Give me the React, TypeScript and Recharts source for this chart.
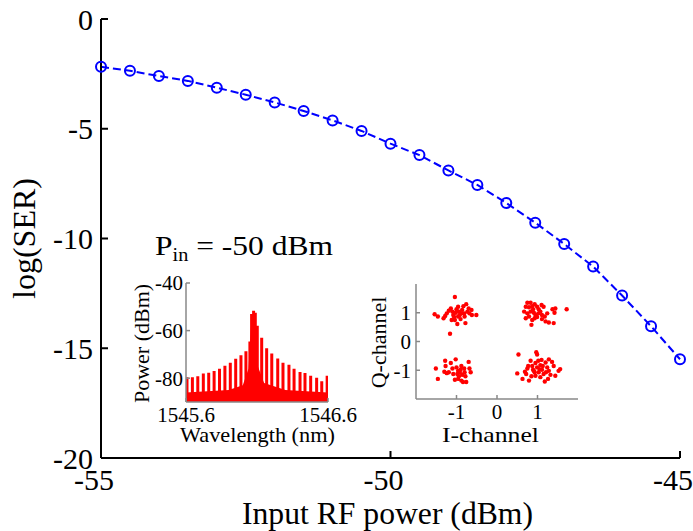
import React from 'react';
import { LineChart, Line, XAxis, YAxis, ComposedChart, Area, ScatterChart, Scatter } from 'recharts';

// main curve: log(SER) vs input RF power
const inputPower = [-55, -54.5, -54, -53.5, -53, -52.5, -52, -51.5, -51, -50.5, -50, -49.5, -49, -48.5, -48, -47.5, -47, -46.5, -46, -45.5, -45];
const logSer = [-2.18, -2.36, -2.6, -2.82, -3.13, -3.45, -3.8, -4.19, -4.62, -5.1, -5.68, -6.2, -6.9, -7.56, -8.38, -9.28, -10.25, -11.28, -12.6, -14.0, -15.5];
const mainXTicks = [-55, -50, -45];
const mainYTicks = [-20, -15, -10, -5, 0];

// inset 1: optical spectrum comb lines
const combWl = [1545.607, 1545.645, 1545.683, 1545.722, 1545.76, 1545.798, 1545.836, 1545.874, 1545.912, 1545.95, 1545.987, 1546.022, 1546.05, 1546.062, 1546.076, 1546.088, 1546.102, 1546.133, 1546.168, 1546.204, 1546.246, 1546.283, 1546.325, 1546.361, 1546.403, 1546.438, 1546.478, 1546.52, 1546.556, 1546.594];
const combPeak = [-79.6, -79.6, -79.2, -78.0, -77.7, -77.0, -76.0, -74.8, -73.5, -71.8, -70.4, -68.7, -64.6, -53.0, -51.7, -52.5, -58.0, -63.0, -67.4, -69.6, -71.7, -73.5, -74.3, -76.0, -77.4, -77.8, -79.0, -79.8, -81.3, -79.0];
const floorWl = [1545.6, 1545.9, 1546.0, 1546.04, 1546.058, 1546.07, 1546.085, 1546.1, 1546.15, 1546.3, 1546.6];
const floorP = [-86, -85, -83, -76, -58, -56, -57, -74, -82, -85, -86];
const specFloor = -90;
const specXTicks = [1545.6, 1546.6];
const specYTicks = [-80, -60, -40];

// inset 2: constellation (I, Q)
const clusterTL = [[-1.04, 1.55], [-1.54, 0.95], [-1.46, 0.87], [-1.32, 0.81], [-1.28, 0.89], [-1.24, 0.98], [-1.19, 1.07], [-1.14, 1.15], [-1.1, 1.04], [-1.08, 0.92], [-1.06, 0.85], [-1.02, 1.0], [-1.0, 1.12], [-0.96, 1.21], [-0.94, 1.04], [-0.92, 0.92], [-0.9, 0.78], [-0.86, 1.1], [-0.83, 1.23], [-0.81, 0.98], [-0.8, 0.87], [-0.78, 0.64], [-0.76, 1.3], [-0.73, 1.04], [-0.7, 1.15], [-0.68, 0.98], [-0.63, 1.1], [-0.62, 0.92], [-0.51, 0.92], [-0.98, 0.61], [-1.16, 0.27], [-1.12, 0.75], [-0.88, 0.98], [-0.96, 0.87], [-1.04, 0.75]];
const clusterTR = [[0.75, 1.35], [0.83, 1.35], [0.71, 1.21], [0.79, 1.19], [0.87, 1.23], [0.93, 1.3], [0.99, 1.21], [1.03, 1.12], [1.1, 1.27], [1.15, 1.21], [0.67, 1.04], [0.75, 0.98], [0.83, 1.04], [0.91, 1.0], [0.95, 0.92], [1.02, 0.98], [1.07, 1.04], [1.11, 0.92], [1.18, 0.87], [1.24, 0.98], [0.71, 0.81], [0.79, 0.87], [0.87, 0.75], [0.93, 0.81], [0.85, 0.58], [1.2, 0.7], [1.28, 0.66], [1.4, 0.64], [1.37, 1.12], [1.44, 1.15], [1.42, 1.0], [1.72, 1.12], [0.99, 0.85], [1.11, 0.78], [0.89, 1.12]];
const clusterBL = [[-1.51, -0.94], [-1.46, -1.3], [-1.28, -0.67], [-1.27, -0.85], [-1.3, -1.05], [-1.24, -1.1], [-1.14, -0.75], [-1.1, -0.94], [-1.19, -1.07], [-1.02, -0.62], [-1.0, -0.9], [-0.96, -1.02], [-0.98, -1.13], [-0.92, -1.07], [-0.94, -1.21], [-0.9, -0.98], [-0.86, -1.16], [-0.88, -1.36], [-0.8, -1.07], [-0.78, -1.21], [-0.81, -0.94], [-0.84, -1.41], [-0.76, -1.41], [-0.7, -0.71], [-0.68, -0.94], [-0.65, -1.07], [-1.04, -1.33], [-1.08, -1.13], [-0.88, -0.85], [-0.96, -1.3]];
const clusterBR = [[0.53, -0.45], [0.97, -0.37], [0.99, -0.45], [0.5, -1.11], [0.63, -1.3], [0.79, -1.36], [0.72, -1.13], [0.75, -0.94], [0.83, -0.67], [0.87, -0.85], [0.91, -1.02], [0.95, -0.75], [0.99, -0.9], [1.03, -1.07], [1.07, -0.82], [1.11, -0.98], [1.15, -1.13], [1.2, -0.73], [1.24, -0.9], [1.28, -1.02], [1.32, -1.16], [1.26, -1.3], [1.36, -0.71], [1.4, -0.85], [1.44, -1.19], [1.52, -1.02], [1.18, -1.39], [1.07, -1.24], [0.95, -1.19], [0.85, -1.21], [0.77, -0.85], [1.02, -0.67], [1.1, -0.64], [1.28, -0.62], [0.93, -1.07], [1.13, -0.85], [1.21, -1.07], [1.05, -0.96], [0.89, -0.98], [1.56, -0.96], [0.69, -1.05]];
const iqTicks = [-1, 0, 1];

const FONT = '"Liberation Serif", "Times New Roman", serif';

const serData = inputPower.map((p, i) => ({ p, ser: logSer[i] }));
// each comb line goes floor -> peak -> floor at its wavelength
const combData = combWl.flatMap((wl, i) => [
    { wl, p: specFloor },
    { wl, p: combPeak[i] },
    { wl, p: specFloor },
]);
const floorData = floorWl.map((wl, i) => ({ wl, p: floorP[i] }));
const toIQ = (pts: number[][]) => pts.map(([i, q]) => ({ i, q }));

const mainXTick = { fill: '#000', fontSize: 30, fontFamily: FONT, dx: -7 };
const mainYTick = { fill: '#000', fontSize: 30, fontFamily: FONT };
const insetTick = { fill: '#000', fontSize: 21, fontFamily: FONT };
const blank = () => '';

const dotShape = (props: any) => <circle cx={props.cx} cy={props.cy} r={2.2} fill="#ff0000" />;

export default function App() {
    return (
        <div style={{ position: 'absolute', left: 0, top: 0, width: 693, height: 531, background: '#fff', overflow: 'hidden' }}>
            <LineChart width={693} height={531} data={serData} margin={{ top: 19, right: 13, left: 0, bottom: 0 }}>
                <XAxis dataKey="p" type="number" domain={[-55, -45]} ticks={mainXTicks} interval={0} height={73}
                    stroke="#000" strokeWidth={2} tickSize={-7} tickMargin={18} tick={mainXTick} />
                <XAxis xAxisId="top" orientation="top" dataKey="p" type="number" domain={[-55, -45]} ticks={mainXTicks}
                    interval={0} height={0} stroke="#000" strokeWidth={2} tickSize={-7} tickFormatter={blank} />
                <YAxis type="number" domain={[-20, 0]} ticks={mainYTicks} interval={0} width={101}
                    stroke="#000" strokeWidth={2} tickSize={-7} tickMargin={15} tick={mainYTick} />
                <YAxis yAxisId="right" orientation="right" type="number" domain={[-20, 0]} ticks={mainYTicks} interval={0}
                    width={0} stroke="#000" strokeWidth={2} tickSize={-7} tickFormatter={blank} />
                <Line dataKey="ser" stroke="#0000ff" strokeWidth={2} strokeDasharray="8 4"
                    dot={{ r: 5, stroke: '#0000ff', strokeWidth: 2, fill: 'none', strokeDasharray: '' }}
                    isAnimationActive={false} />
            </LineChart>

            <div style={{ position: 'absolute', left: 100, top: 265 }}>
                <ComposedChart width={280} height={190} data={combData} margin={{ top: 18, right: 52, left: 0, bottom: 0 }}>
                    <XAxis dataKey="wl" type="number" domain={[1545.6, 1546.6]} ticks={specXTicks} interval={0} height={53}
                        stroke="#888" strokeWidth={1.5} tickSize={-4} tickMargin={9} tick={insetTick}
                        tickFormatter={(v: number) => v.toFixed(1)} allowDataOverflow />
                    <XAxis xAxisId="top" orientation="top" dataKey="wl" type="number" domain={[1545.6, 1546.6]}
                        ticks={specXTicks} height={0} stroke="#888" strokeWidth={1.5} tickSize={-4} tickFormatter={blank} />
                    <YAxis type="number" domain={[-90, -40]} ticks={specYTicks} interval={0} width={86}
                        stroke="#888" strokeWidth={1.5} tickSize={-4} tickMargin={7} tick={insetTick} allowDataOverflow />
                    <YAxis yAxisId="right" orientation="right" type="number" domain={[-90, -40]} ticks={specYTicks}
                        width={0} stroke="#888" strokeWidth={1.5} tickSize={-4} tickFormatter={blank} />
                    <Area data={floorData} dataKey="p" baseValue="dataMin" type="linear" stroke="none" fill="#ff0000"
                        fillOpacity={1} isAnimationActive={false} />
                    <Line dataKey="p" type="linear" stroke="#ff0000" strokeWidth={3} strokeLinejoin="bevel"
                        dot={false} isAnimationActive={false} />
                </ComposedChart>
            </div>

            <div style={{ position: 'absolute', left: 340, top: 265 }}>
                <ScatterChart width={260} height={190} margin={{ top: 19, right: 22, left: 0, bottom: 0 }}>
                    <XAxis dataKey="i" type="number" domain={[-2, 2]} ticks={iqTicks} interval={0} height={56}
                        stroke="#888" strokeWidth={1.5} tickSize={-4} tickMargin={9} tick={insetTick} />
                    <XAxis xAxisId="top" orientation="top" dataKey="i" type="number" domain={[-2, 2]} ticks={iqTicks}
                        height={0} stroke="#888" strokeWidth={1.5} tickSize={-4} tickFormatter={blank} />
                    <YAxis dataKey="q" type="number" domain={[-2, 2]} ticks={iqTicks} interval={0} width={76}
                        stroke="#888" strokeWidth={1.5} tickSize={-4} tickMargin={9} tick={insetTick} />
                    <YAxis yAxisId="right" orientation="right" dataKey="q" type="number" domain={[-2, 2]} ticks={iqTicks}
                        width={0} stroke="#888" strokeWidth={1.5} tickSize={-4} tickFormatter={blank} />
                    <Scatter data={toIQ(clusterTL)} shape={dotShape} isAnimationActive={false} />
                    <Scatter data={toIQ(clusterTR)} shape={dotShape} isAnimationActive={false} />
                    <Scatter data={toIQ(clusterBL)} shape={dotShape} isAnimationActive={false} />
                    <Scatter data={toIQ(clusterBR)} shape={dotShape} isAnimationActive={false} />
                </ScatterChart>
            </div>

            <svg width={693} height={531} style={{ position: 'absolute', left: 0, top: 0, pointerEvents: 'none' }}
                fontFamily={FONT} fill="#000">
                <text transform="translate(35,238.5) rotate(-90)" textAnchor="middle" fontSize={32}>log(SER)</text>
                <text x={242} y={524} fontSize={31} textLength={291} lengthAdjust="spacingAndGlyphs">Input RF power (dBm)</text>
                <text x={155} y={255} fontSize={28} textLength={178} lengthAdjust="spacingAndGlyphs" style={{ whiteSpace: 'pre' }}>
                    P<tspan fontSize={18} dy={6}>in</tspan><tspan dy={-6}> = -50 dBm</tspan>
                </text>
                <text transform="translate(149,343.5) rotate(-90)" textAnchor="middle" fontSize={22}>Power (dBm)</text>
                <text x={180} y={442} fontSize={21} textLength={155} lengthAdjust="spacingAndGlyphs">Wavelength (nm)</text>
                <text transform="translate(386,342.5) rotate(-90)" textAnchor="middle" fontSize={22}>Q-channel</text>
                <text x={442} y={442} fontSize={21} textLength={97} lengthAdjust="spacingAndGlyphs">I-channel</text>
            </svg>
        </div>
    );
}
